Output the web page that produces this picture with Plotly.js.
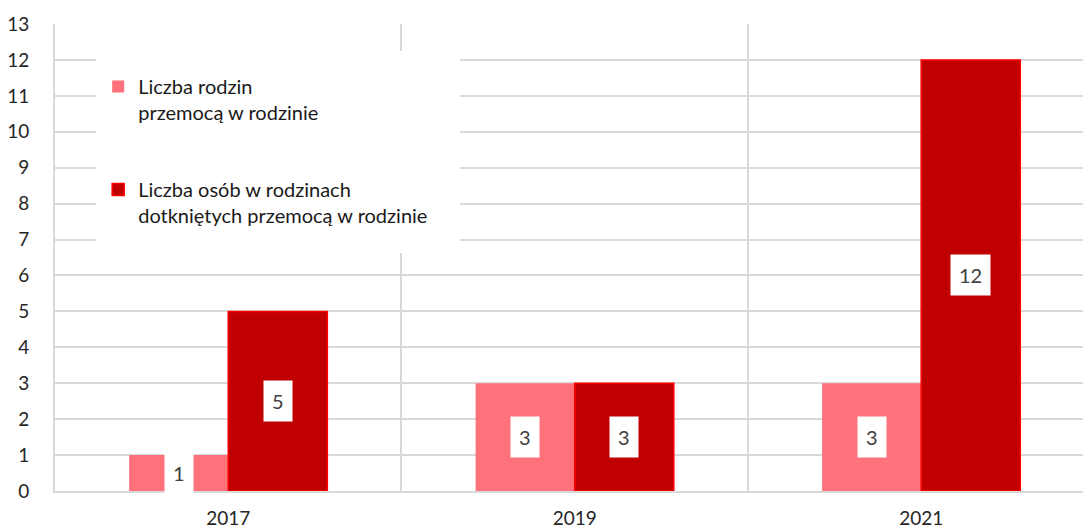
<!DOCTYPE html>
<html>
<head>
<meta charset="utf-8">
<script src="https://cdn.plot.ly/plotly-3.0.1.min.js"></script>
<style>html,body{margin:0;padding:0;background:#fff;}#chart{width:1083px;height:530px;}</style>
</head>
<body>
<div id="chart"></div>
<script>
const categories = ['2017', '2019', '2021'];
const rodziny = [1, 3, 3];
const osoby = [5, 3, 12];
const seriesNames = ['Liczba rodzin<br>przemocą w rodzinie', 'Liczba osób w rodzinach<br>dotkniętych przemocą w rodzinie'];
const yTicks = [0,1,2,3,4,5,6,7,8,9,10,11,12,13];

const FONT = 'Lato, "Liberation Sans", sans-serif';
const GRID = '#D9D9D9';
const bargap = 0.428;
const xIdx = categories.map((c, i) => i);

const traces = [
  {type: 'bar', x: xIdx, y: rodziny, name: seriesNames[0], legendgroup: 'a',
   marker: {color: '#FF717B', line: {color: '#FF717B', width: 0}}, hoverinfo: 'skip'},
  {type: 'bar', x: xIdx, y: osoby, name: seriesNames[1], legendgroup: 'b',
   marker: {color: '#C00000', line: {color: '#FF0000', width: 1.5}}, hoverinfo: 'skip'}
];

const half = (1 - bargap) / 4;
const annotations = [];
[rodziny, osoby].forEach((arr, s) => {
  arr.forEach((v, i) => {
    annotations.push({
      x: i + (s === 0 ? -half : half), y: v / 2, xref: 'x', yref: 'y',
      text: String(v), showarrow: false, bgcolor: '#FFFFFF', borderpad: 8,
      font: {family: FONT, size: 20, color: '#404040'}
    });
  });
});

const layout = {
  width: 1083, height: 530,
  margin: {l: 55, r: 0, t: 24, b: 39},
  paper_bgcolor: '#FFFFFF', plot_bgcolor: '#FFFFFF',
  font: {family: FONT, color: '#262626', size: 19},
  barmode: 'group', bargap: bargap, bargroupgap: 0,
  showlegend: true,
  legend: {
    x: 0.042, y: 0.908, xanchor: 'left', yanchor: 'top',
    bgcolor: 'rgba(255,255,255,0)', borderwidth: 0,
    traceorder: 'grouped', tracegroupgap: 48, valign: 'top',
    font: {family: FONT, size: 20, color: '#1a1a1a'},
    itemclick: false, itemdoubleclick: false
  },
  shapes: [{
    type: 'rect', xref: 'paper', yref: 'paper', layer: 'above',
    x0: 0.0399, x1: 0.394, y0: 0.5096, y1: 0.942,
    fillcolor: '#FFFFFF', line: {width: 0}
  }],
  xaxis: {
    range: [-0.5, 2.467], tickmode: 'array', tickvals: xIdx, ticktext: categories,
    showgrid: false, zeroline: false, showline: true, linecolor: GRID, linewidth: 2,
    ticks: '', ticklabelstandoff: 9, tickfont: {size: 19, color: '#262626'},
    minor: {tickmode: 'linear', tick0: 0.5, dtick: 1, showgrid: true, gridcolor: GRID, gridwidth: 2, ticks: ''},
    fixedrange: true
  },
  yaxis: {
    range: [0, 13], tickmode: 'array', tickvals: yTicks,
    showgrid: true, gridcolor: GRID, gridwidth: 2, zeroline: false,
    showline: true, linecolor: GRID, linewidth: 2,
    ticks: '', ticklabelstandoff: 20, tickfont: {size: 19, color: '#262626'},
    fixedrange: true
  },
  annotations: annotations
};

Plotly.newPlot('chart', traces, layout, {displayModeBar: false, staticPlot: true});
</script>
</body>
</html>
